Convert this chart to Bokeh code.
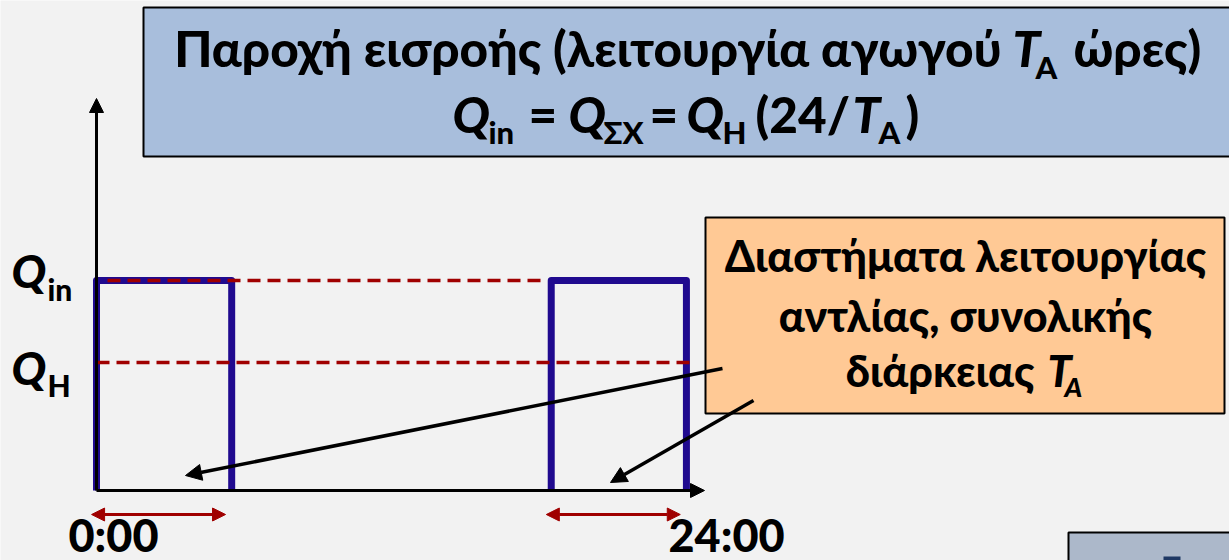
from bokeh.plotting import figure
from bokeh.models import Range1d, Arrow, NormalHead
from bokeh.core.properties import value
from bokeh.embed import file_html
from bokeh.resources import INLINE

# Pump operating windows within one day (hours)
pump_start = [0.0, 18.5]
pump_end = [5.5, 24.0]

# Flow levels (relative units): pumped inflow and mean hourly demand
Q_in = 1.0
Q_H = 0.61

# Time-axis labels
day_ticks = [0, 24]
day_labels = ["0:00", "24:00"]

W, H = 1229, 560
# Canvas layout: origin of the diagram and scale (pixels per hour / per flow unit)
X0, PXH = 96.0, 24.58
Y0, PYQ = 490.0, 210.0


def hx(px):
    return (px - X0) / PXH


def qy(py):
    return (Y0 - py) / PYQ


BG = "#F2F2F2"
PUMP = "#200A8F"
RED = "#A00000"
FONT = value("Lato Heavy")
BASE_SHIFT = 0.4  # alphabetic baseline correction, in em

p = figure(width=W, height=H, output_backend="svg", toolbar_location=None,
           x_range=Range1d(hx(0), hx(W)), y_range=Range1d(qy(H), qy(0)),
           x_axis_location=None, y_axis_location=None, min_border=0,
           background_fill_color=BG, border_fill_color=BG, outline_line_color=None)
p.xgrid.visible = False
p.ygrid.visible = False

# Title box
p.quad(left=[hx(143)], right=[hx(W + 6)], top=[qy(7)], bottom=[qy(156)],
       fill_color="#A8BEDC", line_color="black", line_width=2)

# Callout box
p.quad(left=[hx(705)], right=[hx(1224)], top=[qy(217)], bottom=[qy(413)],
       fill_color="#FFC995", line_color="black", line_width=2)

# Partially visible box at the lower right
p.quad(left=[hx(1068)], right=[hx(W + 6)], top=[qy(532)], bottom=[qy(H + 6)],
       fill_color="#ACB8CA", line_color="black", line_width=2)
p.quad(left=[hx(1163)], right=[hx(1180)], top=[qy(556)], bottom=[qy(H + 6)],
       fill_color="#1F3864", line_color=None)

# Axes with arrow heads
axis_head = dict(size=14, fill_color="black", line_color="black", line_width=1)
p.add_layout(Arrow(end=NormalHead(**axis_head), x_start=0, y_start=0,
                   x_end=hx(704), y_end=0, line_width=3, line_color="black"))
p.add_layout(Arrow(end=NormalHead(**axis_head), x_start=0, y_start=0,
                   x_end=0, y_end=qy(98), line_width=3, line_color="black"))

# Pump pulses
xs = [[s, s, e, e] for s, e in zip(pump_start, pump_end)]
ys = [[0, Q_in, Q_in, 0] for _ in pump_start]
p.multi_line(xs=xs, ys=ys, line_width=7, line_color=PUMP, line_join="round")

# Reference levels
p.segment(x0=[hx(107), 0], y0=[Q_in, Q_H], x1=[hx(542), hx(690)], y1=[Q_in, Q_H],
          line_color=RED, line_width=3.5, line_dash="13 7")

# Duration markers under each pumping window
red_head = dict(size=13, fill_color=RED, line_color=RED, line_width=1)
for s, e in zip(pump_start, pump_end):
    p.add_layout(Arrow(start=NormalHead(**red_head), end=NormalHead(**red_head),
                       x_start=s - 0.2, y_start=qy(514), x_end=e - 0.25, y_end=qy(514),
                       line_width=3, line_color=RED))

# Callout pointers
blk_head = dict(size=16, fill_color="black", line_color="black", line_width=1)
for (a, b), (c, d) in [((722, 368), (185, 475)), ((753, 400), (610, 482))]:
    p.add_layout(Arrow(end=NormalHead(**blk_head), x_start=hx(a), y_start=qy(b),
                       x_end=hx(c), y_end=qy(d), line_width=3.5, line_color="black"))


def txt(x, y, s, size, italic=False, align="left", color="black"):
    p.text(x=[hx(x)], y=[qy(y - BASE_SHIFT * size)], text=[s], text_font=FONT,
           text_font_style="bold italic" if italic else "bold",
           text_font_size=f"{size}px", text_align=align,
           text_baseline="alphabetic", text_color=color)


# Title, line 1
T1, S1 = 49.5, 31
txt(1001, 67, "Παροχή εισροής (λειτουργία αγωγού", T1, align="right")
txt(1012, 67, "T", T1, italic=True)
txt(1035, 79, "A", S1)
txt(1073, 67, "ώρες)", T1)

# Title, line 2
txt(452, 133, "Q", T1, italic=True)
txt(488, 144, "in", S1)
txt(528, 133, "=", T1)
txt(568, 133, "Q", T1, italic=True)
txt(603, 144, "ΣΧ", S1)
txt(649, 133, "=", T1)
txt(686, 133, "Q", T1, italic=True)
txt(722, 144, "H", S1)
txt(755, 133, "(24/", T1)
txt(852, 133, "T", T1, italic=True)
txt(878, 144, "A", S1)
txt(905, 133, ")", T1)

# Level labels on the vertical axis
txt(11, 288, "Q", 46, italic=True)
txt(47, 300, "in", 30)
txt(11, 385, "Q", 46, italic=True)
txt(47, 396, "H", 30)

# Time labels
for t, lab, left in zip(day_ticks, day_labels, [68, 668]):
    txt(left, 552, lab, 45)

# Callout text
C1 = 43
txt(965, 272, "Διαστήματα λειτουργίας", C1, align="center")
txt(965, 332, "αντλίας, συνολικής", C1, align="center")
txt(1034, 387, "διάρκειας", C1, align="right")
txt(1047, 387, "T", C1, italic=True)
txt(1064, 397, "A", 27, italic=True)

open("out.html", "w").write(file_html(p, INLINE))
